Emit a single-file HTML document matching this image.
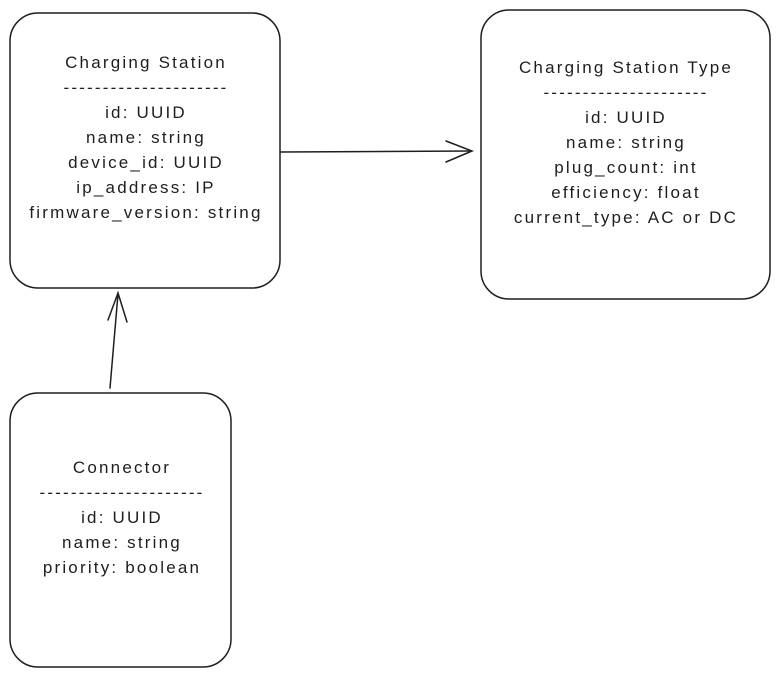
<!DOCTYPE html>
<html><head><meta charset="utf-8"><style>
html,body{margin:0;padding:0;background:#fff;}
body{width:779px;height:678px;position:relative;overflow:hidden;font-family:"Liberation Sans",sans-serif;color:#1e1e1e;}
.t{position:absolute;font-size:17px;text-align:center;white-space:nowrap;line-height:25px;letter-spacing:2.2px;transform:translateX(-50%);}
</style></head><body>
<svg width="779" height="678" style="position:absolute;left:0;top:0">
<g fill="none" stroke="#1e1e1e" stroke-width="1.5" stroke-linecap="round">
<rect x="10" y="13" width="270" height="275" rx="28"/>
<rect x="481" y="10" width="289" height="289" rx="28"/>
<rect x="10" y="393" width="221" height="274" rx="28"/>
<path d="M281 152 L471 151"/>
<path d="M446 141 L472 151 L446 162"/>
<path d="M110 388 L118 294"/>
<path d="M108 320 L118 293 L127 322"/>
</g>
</svg>
<div class="t" style="left:146px;top:50px">Charging Station<br>---------------------<br>id: UUID<br>name: string<br>device_id: UUID<br>ip_address: IP<br>firmware_version: string</div>
<div class="t" style="left:626px;top:55px">Charging Station Type<br>---------------------<br>id: UUID<br>name: string<br>plug_count: int<br>efficiency: float<br>current_type: AC or DC</div>
<div class="t" style="left:122px;top:455px">Connector<br>---------------------<br>id: UUID<br>name: string<br>priority: boolean</div>
</body></html>
